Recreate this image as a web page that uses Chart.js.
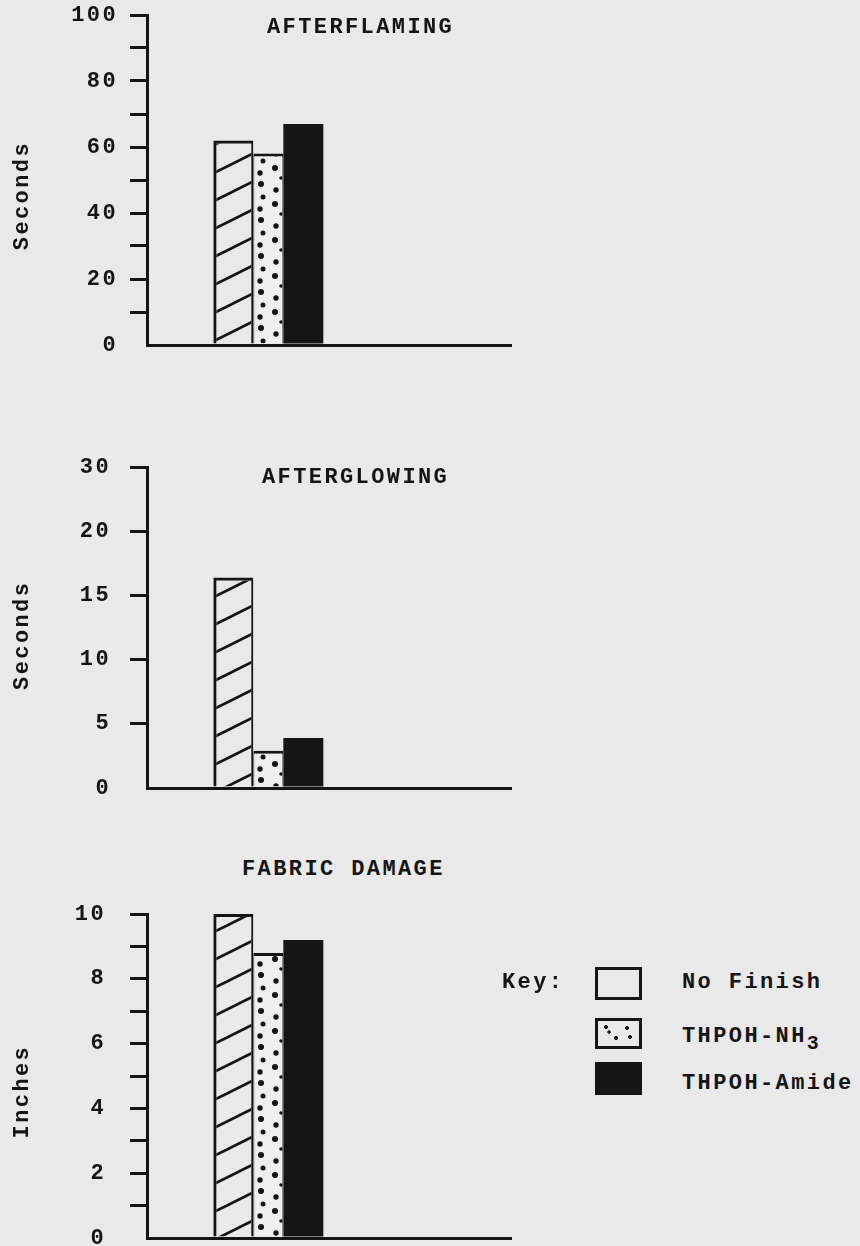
<!DOCTYPE html>
<html>
<head>
<meta charset="utf-8">
<script src="https://cdn.jsdelivr.net/npm/chart.js@4.4.1/dist/chart.umd.min.js"></script>
<style>
  html, body { margin: 0; padding: 0; background: #e9e9e9; }
  body {
    width: 860px; height: 1246px; position: relative; overflow: hidden;
    font-family: "Liberation Mono", "DejaVu Sans Mono", monospace; color: #151515;
  }
  .panel { position: absolute; left: 0; width: 520px; }
  .txt {
    position: absolute; font-size: 22px; line-height: 26px; font-weight: bold;
    letter-spacing: 2.4px; white-space: nowrap;
  }
  .sub { position: relative; top: 7px; font-size: 20px; }
  .swatch { position: absolute; box-sizing: border-box; border: 3px solid #151515; }
</style>
</head>
<body>
<div class="panel" style="top:0;height:360px"><canvas id="flaming"></canvas></div>
<div class="panel" style="top:452px;height:350px"><canvas id="glowing"></canvas></div>
<div class="panel" style="top:899px;height:347px"><canvas id="damage"></canvas></div>
<div id="labels"></div>
<script>
// ---- values ----
const seriesNames = ['No Finish', 'THPOH-NH3', 'THPOH-Amide'];
const afterflamingSeconds = [62, 58, 67];
const afterglowingSeconds = [16.4, 2.9, 3.9];
const fabricDamageInches = [10, 8.8, 9.2];

const afterflamingTicks = ['0', '', '20', '', '40', '', '60', '', '80', '', '100'];
const afterglowingTicks = ['0', '5', '10', '15', '20', '30'];
const fabricDamageTicks = ['0', '', '2', '', '4', '', '6', '', '8', '', '10'];

const panelTitles = ['AFTERFLAMING', 'AFTERGLOWING', 'FABRIC DAMAGE'];
const axisTitles = ['Seconds', 'Seconds', 'Inches'];

// ---- look ----
const INK = '#151515';
const FONT = '"Liberation Mono", "DejaVu Sans Mono", monospace';
const SPACING = '2.4px';

Chart.defaults.font.family = FONT;
Chart.defaults.font.size = 22;
Chart.defaults.font.weight = 'bold';
Chart.defaults.color = INK;

// diagonal hatch for the untreated fabric
function hatchPattern() {
  const c = document.createElement('canvas');
  c.width = 56; c.height = 28;
  const g = c.getContext('2d');
  g.strokeStyle = INK; g.lineWidth = 2.8;
  for (let k = -1; k <= 1; k++) {
    g.beginPath();
    g.moveTo(-10, 33 + k * 28);
    g.lineTo(66, -5 + k * 28);
    g.stroke();
  }
  return g.createPattern(c, 'repeat');
}

// stipple for the THPOH-NH3 finish
function stipplePattern() {
  const c = document.createElement('canvas');
  c.width = 30; c.height = 36;
  const g = c.getContext('2d');
  g.fillStyle = '#eeeeee';
  g.fillRect(0, 0, 30, 36);
  g.fillStyle = INK;
  [[21, 4, 3.0], [6, 10, 2.7], [23, 17, 2.5], [5, 24, 3.0], [20, 29, 2.7], [11, 34, 1.8]]
    .forEach(([x, y, r]) => { g.beginPath(); g.arc(x, y, r, 0, Math.PI * 2); g.fill(); });
  return g.createPattern(c, 'repeat');
}

const fills = [hatchPattern(), stipplePattern(), INK];
const barPct = [40 / 35, 30 / 35, 40 / 35];
const borders = [
  { top: 3, left: 3, right: 2, bottom: 0 },
  { top: 3, left: 1, right: 1, bottom: 0 },
  { top: 0, left: 0, right: 0, bottom: 0 }
];

const typewriter = {
  id: 'typewriter',
  beforeUpdate(chart) { chart.ctx.letterSpacing = SPACING; },
  beforeDraw(chart) { chart.ctx.letterSpacing = SPACING; }
};

function noPadding(s) {
  s.paddingTop = 0; s.paddingBottom = 0; s.paddingLeft = 0; s.paddingRight = 0;
}

function buildPanel(id, values, opts) {
  const datasets = seriesNames.map((name, i) => ({
    label: name,
    data: [{ x: 1, y: opts.toAxis(values[i]) }],
    backgroundColor: fills[i],
    borderColor: INK,
    borderWidth: borders[i],
    borderSkipped: 'bottom',
    barPercentage: barPct[i],
    categoryPercentage: 0.8654
  }));
  return new Chart(document.getElementById(id), {
    type: 'bar',
    data: { datasets },
    plugins: [typewriter],
    options: {
      responsive: true,
      maintainAspectRatio: false,
      animation: false,
      layout: { padding: { top: 15, bottom: opts.padBottom, left: 0, right: 9 } },
      plugins: { legend: { display: false }, tooltip: { enabled: false } },
      scales: {
        x: {
          type: 'linear', min: 0, max: 3, offset: false,
          ticks: { display: false, stepSize: 1 },
          grid: { display: false, offset: false },
          border: { display: true, color: INK, width: 3 },
          afterFit(s) { s.height = 0; noPadding(s); }
        },
        y: {
          min: 0, max: opts.max,
          ticks: {
            stepSize: opts.step,
            padding: opts.labelPad,
            autoSkip: false,
            callback: (v, i) => opts.tickLabels[i]
          },
          grid: {
            drawOnChartArea: false,
            drawTicks: true,
            tickLength: 17,
            lineWidth: 3,
            color: c => (c.tick && c.tick.value === 0 ? 'rgba(0,0,0,0)' : INK)
          },
          border: { display: true, color: INK, width: 3 },
          title: {
            // trailing blanks nudge the rotated caption toward the baseline
            display: true, text: opts.axisTitle + ' '.repeat(opts.titleNudge), color: INK,
            font: { size: 22 }, padding: { top: 9, bottom: 0 }
          },
          afterFit(s) { s.width = 147; noPadding(s); }
        }
      }
    }
  });
}

const identity = v => v;
// afterglowing axis: evenly spaced up to 20, then one step of 10 drawn like a step of 5
const glowAxis = v => (v <= 20 ? v : 20 + (v - 20) / 2);

buildPanel('flaming', afterflamingSeconds, {
  toAxis: identity, max: 100, step: 10, labelPad: 12, titleNudge: 2,
  tickLabels: afterflamingTicks, axisTitle: axisTitles[0], padBottom: 15
});
buildPanel('glowing', afterglowingSeconds, {
  toAxis: glowAxis, max: glowAxis(30), step: 5, labelPad: 19, titleNudge: 1,
  tickLabels: afterglowingTicks, axisTitle: axisTitles[1], padBottom: 14
});
buildPanel('damage', fabricDamageInches, {
  toAxis: identity, max: 10, step: 1, labelPad: 24, titleNudge: 2,
  tickLabels: fabricDamageTicks, axisTitle: axisTitles[2], padBottom: 8
});

// panel headings and key
const labels = document.getElementById('labels');
function addText(text, left, top) {
  const d = document.createElement('div');
  d.className = 'txt';
  d.style.left = left + 'px';
  d.style.top = top + 'px';
  d.innerHTML = text;
  labels.appendChild(d);
  return d;
}
addText(panelTitles[0], 267, 15);
addText(panelTitles[1], 262, 465);
addText(panelTitles[2], 242, 857);

addText('Key:', 502, 970);
const keyRows = [
  { boxTop: 967, boxH: 33, textTop: 970 },
  { boxTop: 1018, boxH: 31, textTop: 1024 },
  { boxTop: 1062, boxH: 33, textTop: 1071 }
];
seriesNames.forEach((name, i) => {
  const row = keyRows[i];
  const sw = document.createElement('div');
  sw.className = 'swatch';
  sw.style.left = '595px';
  sw.style.top = row.boxTop + 'px';
  sw.style.width = '47px';
  sw.style.height = row.boxH + 'px';
  if (i === 1) {
    sw.style.background =
      'radial-gradient(circle at 8px 6px, #151515 1.6px, transparent 2.2px),' +
      'radial-gradient(circle at 11px 11px, #151515 1.4px, transparent 2px),' +
      'radial-gradient(circle at 18px 17px, #151515 1.7px, transparent 2.3px),' +
      'radial-gradient(circle at 29px 7px, #151515 1.6px, transparent 2.2px),' +
      'radial-gradient(circle at 32px 16px, #151515 1.6px, transparent 2.2px)';
  } else if (i === 2) {
    sw.style.background = INK;
  }
  labels.appendChild(sw);
  addText(name.replace(/(\d)$/, '<span class="sub">$1</span>'), 682, row.textTop);
});
</script>
</body>
</html>
